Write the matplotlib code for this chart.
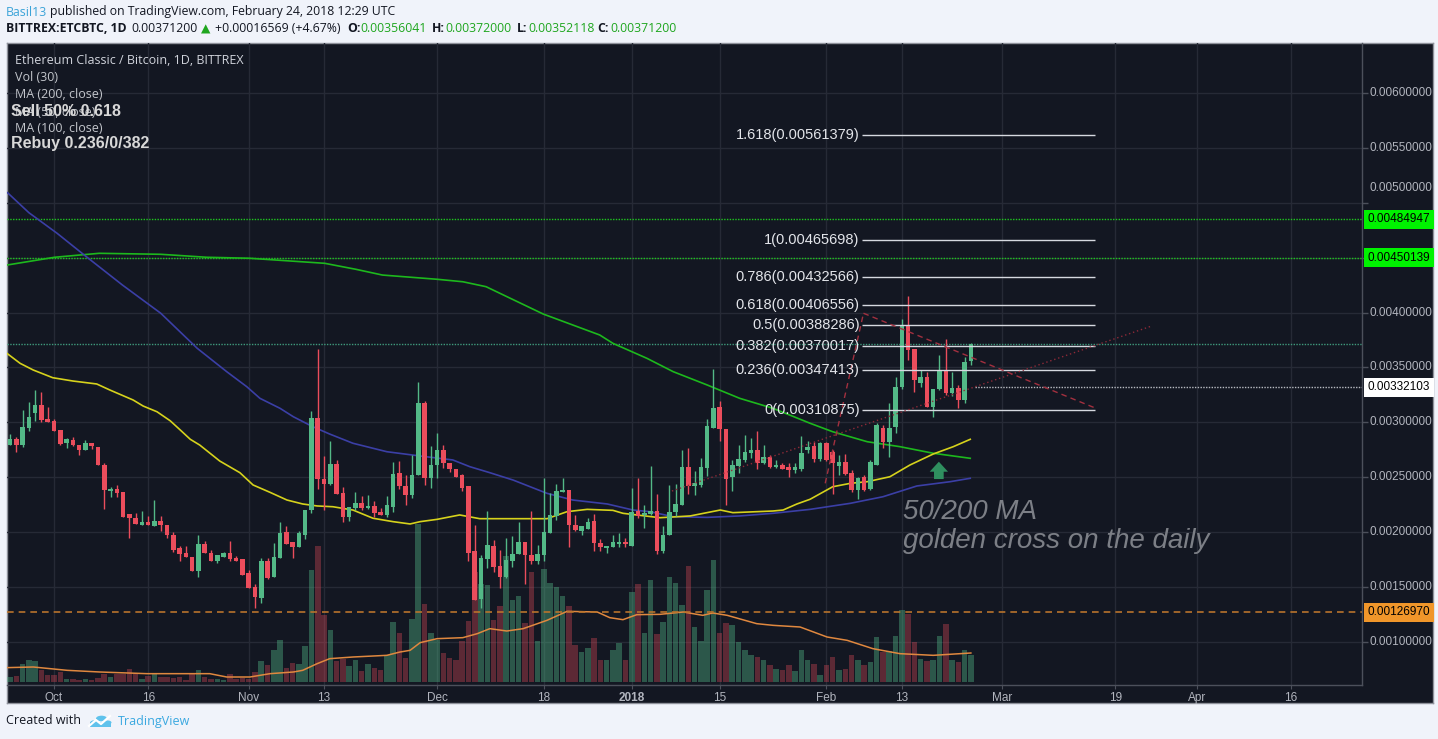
import matplotlib
matplotlib.use("Agg")
import matplotlib.pyplot as plt
from matplotlib.patches import Polygon, Circle, Rectangle
from matplotlib.colors import to_rgba
import numpy as np
import datetime as dt

# ---------------------------------------------------------------- data
UNIT = 1e-5                      # prices below are in units of 1e-5 BTC
FIRST_DAY = dt.date(2017, 9, 24)  # first daily candle
ORIGIN = dt.date(2017, 10, 1)     # x = days since this date

opens = [279.7, 284.8, 279.7, 295.2, 308.2, 315.5, 303.3, 301.5, 292.7, 280.9,
         284.2, 279.7, 274.5, 281.5, 277.9, 261.5, 237.6, 239.1, 237.0, 216.4,
         213.3, 207.0, 209.7, 205.2, 210.6, 207.0, 197.9, 185.2, 180.9, 177.6,
         164.5, 188.8, 181.5, 174.2, 177.0, 180.9, 176.1, 175.2, 162.4, 150.0,
         139.7, 173.6, 158.8, 176.1, 200.0, 190.9, 186.4, 197.9, 220.0, 304.2,
         248.8, 244.2, 262.4, 235.8, 213.9, 221.8, 227.0, 221.8, 223.6, 218.8,
         216.1, 222.7, 254.2, 242.4, 234.2, 251.8, 317.3, 249.1, 261.5, 274.5,
         263.3, 257.9, 251.8, 241.8, 182.7, 138.8, 175.2, 187.3, 169.1, 159.4,
         174.2, 179.7, 190.9, 178.8, 173.6, 179.1, 199.7, 215.2, 237.0, 238.8,
         207.0, 200.9, 203.3, 210.6, 190.0, 185.8, 186.4, 189.7, 191.2, 187.3,
         219.1, 215.5, 216.7, 219.7, 183.3, 197.3, 218.2, 224.5, 259.1, 241.8,
         243.3, 258.2, 294.8, 314.2, 294.2, 250.6, 260.6, 266.1, 272.1, 274.5,
         262.7, 268.8, 259.1, 261.5, 259.1, 256.7, 257.6, 274.5, 278.8, 266.4,
         281.6, 272.8, 260.3, 264.3, 254.2, 238.5, 250.0, 239.4, 261.2, 295.2,
         282.5, 295.5, 332.6, 388.7, 366.6, 335.6, 341.1, 313.7, 330.1, 346.8,
         327.1, 331.0, 320.4, 356.041]
highs = [289.7, 286.4, 311.5, 318.2, 329.7, 327.3, 314.2, 303.3, 292.7, 285.8,
         287.0, 279.7, 284.2, 281.5, 277.9, 263.0, 240.9, 242.7, 237.0, 216.4,
         217.9, 219.7, 215.2, 229.7, 215.2, 207.0, 200.3, 187.6, 187.6, 177.6,
         197.3, 191.8, 183.9, 178.8, 181.8, 192.4, 178.2, 175.2, 165.5, 152.4,
         176.1, 176.7, 190.0, 209.7, 205.2, 190.9, 200.9, 220.6, 310.0, 367.0,
         269.1, 282.7, 265.5, 240.9, 222.7, 237.0, 233.3, 234.2, 228.8, 221.8,
         232.7, 263.6, 264.5, 252.4, 270.6, 336.4, 319.1, 278.2, 290.3, 279.7,
         263.3, 257.9, 253.0, 241.8, 207.0, 179.1, 219.1, 193.3, 184.2, 194.8,
         196.4, 209.4, 190.9, 219.1, 187.9, 249.4, 235.8, 243.9, 249.4, 238.8,
         216.1, 205.2, 213.0, 217.0, 193.9, 187.3, 197.3, 199.4, 194.8, 240.3,
         249.4, 225.2, 260.0, 235.2, 206.1, 243.3, 243.6, 274.5, 276.7, 256.1,
         267.6, 303.3, 348.8, 319.7, 294.2, 266.1, 279.7, 288.2, 285.8, 292.4,
         279.7, 270.6, 266.1, 263.0, 263.0, 263.0, 287.9, 282.7, 282.5, 282.5,
         282.5, 274.9, 270.3, 271.2, 256.7, 250.6, 252.1, 265.8, 299.2, 297.6,
         317.4, 341.1, 393.9, 415.1, 366.6, 347.7, 346.2, 330.1, 361.4, 375.7,
         346.2, 334.1, 359.9, 372.0]
lows = [279.1, 273.0, 277.3, 291.8, 301.5, 300.3, 300.0, 291.8, 279.7, 276.4,
        278.5, 270.0, 274.5, 275.5, 260.9, 220.9, 232.1, 232.4, 214.2, 194.8,
        207.9, 207.0, 206.4, 205.2, 200.9, 194.8, 182.1, 173.6, 177.0, 164.5,
        159.1, 180.9, 174.2, 171.5, 177.0, 173.6, 174.2, 160.6, 148.8, 130.6,
        135.8, 157.0, 158.8, 176.1, 188.8, 176.7, 186.4, 193.6, 217.6, 239.7,
        220.6, 242.7, 235.2, 209.4, 210.0, 220.6, 220.0, 221.2, 213.9, 216.1,
        213.9, 218.8, 239.1, 225.2, 231.2, 251.8, 243.3, 240.3, 249.4, 258.5,
        254.8, 250.6, 237.3, 173.6, 137.9, 131.2, 167.6, 163.9, 149.4, 158.5,
        168.2, 179.7, 152.4, 170.6, 170.6, 173.6, 199.7, 210.9, 237.0, 186.4,
        200.9, 197.3, 203.3, 182.7, 182.7, 181.2, 186.4, 186.4, 186.4, 187.3,
        213.0, 203.9, 216.1, 179.7, 181.2, 197.3, 214.5, 224.5, 234.8, 234.2,
        240.9, 250.9, 294.8, 282.7, 225.2, 237.3, 253.9, 263.6, 267.6, 257.6,
        262.1, 258.5, 258.5, 257.9, 250.0, 253.9, 255.5, 272.1, 264.3, 265.2,
        265.2, 234.8, 252.1, 252.1, 236.9, 230.0, 237.9, 238.5, 261.2, 276.4,
        268.8, 290.1, 330.4, 356.8, 328.0, 332.6, 313.7, 304.6, 329.5, 325.0,
        324.1, 312.8, 317.4, 352.118]
closes = [284.8, 279.7, 296.1, 305.2, 315.5, 302.4, 300.0, 291.8, 280.6, 284.5,
          279.1, 274.5, 281.5, 278.2, 260.9, 238.2, 239.1, 236.1, 214.2, 212.7,
          207.9, 209.7, 206.4, 210.6, 206.4, 197.3, 184.2, 180.0, 177.0, 164.5,
          188.8, 180.9, 174.2, 178.8, 180.9, 175.2, 174.2, 160.6, 148.8, 141.2,
          173.6, 157.9, 177.0, 199.1, 188.8, 186.4, 199.1, 220.6, 304.2, 248.2,
          244.2, 262.4, 235.2, 213.9, 222.7, 227.0, 221.8, 223.6, 217.6, 216.1,
          224.5, 253.3, 241.8, 234.2, 252.4, 317.3, 249.1, 260.9, 274.5, 262.7,
          257.9, 250.6, 240.6, 181.5, 137.9, 176.1, 188.2, 168.2, 159.4, 174.8,
          180.6, 190.9, 178.8, 173.6, 179.7, 200.6, 216.1, 237.9, 238.8, 206.4,
          202.4, 205.2, 209.4, 190.0, 186.4, 187.3, 190.9, 191.2, 188.8, 218.2,
          215.2, 217.3, 219.7, 183.3, 197.3, 218.8, 225.5, 259.1, 241.8, 244.5,
          259.1, 296.4, 312.7, 293.6, 248.5, 261.5, 267.0, 273.3, 274.5, 262.7,
          268.8, 259.1, 260.9, 257.9, 256.4, 259.4, 272.4, 278.0, 266.4, 281.6,
          265.8, 262.7, 264.3, 253.0, 238.5, 249.1, 238.5, 263.6, 297.6, 282.5,
          295.2, 332.6, 388.7, 366.0, 338.6, 341.1, 313.7, 330.1, 346.8, 327.1,
          331.0, 320.4, 354.631, 371.2]
# relative volume units
volumes = [15, 17, 53, 67, 62, 37, 20, 20, 30, 10,
           10, 7, 10, 7, 13, 25, 15, 25, 25, 40,
           25, 10, 17, 25, 15, 15, 13, 15, 7, 25,
           35, 15, 10, 10, 7, 25, 10, 13, 10, 30,
           62, 50, 95, 125, 43, 58, 55, 107, 335, 407,
           200, 155, 62, 70, 47, 67, 32, 55, 43, 37,
           80, 180, 148, 73, 190, 473, 233, 148, 127, 88,
           73, 67, 122, 182, 330, 295, 290, 187, 229, 379,
           245, 257, 178, 329, 122, 340, 298, 285, 259, 229,
           110, 89, 103, 133, 67, 65, 97, 118, 65, 271,
           295, 148, 307, 143, 180, 315, 298, 230, 347, 165,
           124, 277, 367, 148, 178, 170, 120, 97, 80, 75,
           67, 50, 40, 37, 50, 33, 97, 65, 55, 20,
           50, 75, 35, 40, 82, 67, 50, 60, 135, 90,
           93, 138, 217, 205, 120, 70, 63, 65, 137, 175,
           67, 60, 97, 80]

# moving averages (x = days since Oct 1 2017, price in 1e-5)
ma50_days = [-7.5, -5.4, -3.3, -0.2, 3.0, 6.8, 8.9, 12.6, 14.2, 16.4,
             18.5, 20.1, 21.7, 23.2, 26.4, 29.6, 31.7, 34.4, 37.1, 39.6,
             41.9, 44.4, 47.6, 50.8, 54.0, 56.7, 58.3, 61.0, 64.6, 67.8,
             73.1, 78.5, 81.7, 84.9, 89.0, 90.6, 92.8, 96.5, 101.3, 106.1,
             108.1, 114.5, 116.1, 118.3, 120.4, 124.0, 126.8, 129.5, 133.1, 136.3,
             140.0, 143.2, 145.9]
ma50_vals = [362.9, 353.8, 347.7, 340.7, 337.7, 335.0, 329.5, 320.4, 314.9, 309.7,
             301.5, 293.1, 284.6, 279.4, 264.8, 254.2, 243.0, 236.3, 229.3, 225.7,
             223.9, 223.2, 220.2, 212.7, 209.6, 207.5, 209.6, 211.7, 215.7, 212.3,
             212.3, 212.3, 218.7, 220.8, 219.9, 217.2, 215.7, 213.2, 214.8, 220.2,
             217.8, 219.3, 220.2, 225.7, 230.0, 241.4, 244.5, 246.0, 250.5, 261.2,
             271.2, 277.9, 284.6]
ma100_days = [-7.4, -4.0, 0.5, 4.8, 10.9, 17.0, 22.8, 27.5, 30.7, 32.8,
              36.0, 38.1, 41.2, 43.9, 47.6, 53.0, 58.3, 63.5, 66.2, 69.4,
              73.1, 78.5, 82.6, 88.1, 92.2, 94.9, 98.6, 104.0, 109.2, 114.5,
              120.4, 126.8, 132.0, 137.4, 142.7, 145.9]
ma100_vals = [509.2, 491.0, 472.2, 452.5, 425.1, 399.4, 367.5, 346.2, 332.5, 321.9,
              312.8, 305.2, 296.1, 289.4, 281.0, 273.3, 269.4, 265.8, 259.7, 254.2,
              247.5, 235.4, 229.3, 225.7, 220.2, 218.7, 214.1, 213.5, 214.8, 217.2,
              220.8, 226.3, 232.3, 242.1, 246.0, 249.1]
ma200_days = [-7.4, 0.1, 7.2, 17.0, 24.3, 31.1, 43.1, 48.1, 52.3, 61.1,
              65.1, 68.8, 77.9, 86.9, 89.0, 94.4, 98.6, 104.0, 109.2, 114.5,
              120.4, 124.0, 129.5, 134.7, 140.0, 145.9]
ma200_vals = [443.4, 450.4, 454.0, 453.1, 450.4, 449.5, 444.9, 439.4, 434.2, 430.3,
              428.1, 423.6, 398.7, 379.6, 372.0, 358.4, 346.2, 334.1, 321.9, 312.8,
              299.2, 291.5, 282.4, 277.9, 271.9, 267.3]
volma_days = [-7.7, -3.3, 2.1, 7.3, 14.8, 24.8, 27.5, 31.2, 34.4, 38.1,
              39.6, 41.9, 43.9, 47.6, 53.0, 55.1, 56.7, 58.3, 61.0, 65.1,
              67.4, 69.4, 72.1, 74.7, 78.5, 81.7, 86.5, 88.5, 90.6, 92.8,
              96.5, 100.2, 103.3, 104.9, 107.2, 111.9, 114.5, 118.8, 123.1, 126.3,
              130.4, 134.7, 140.0, 146.0]
volma_vals = [43, 45, 35, 30, 25, 25, 15, 15, 25, 30,
              35, 55, 70, 75, 80, 90, 95, 118, 130, 133,
              145, 160, 153, 160, 185, 212, 210, 193, 187, 202,
              203, 210, 200, 207, 200, 175, 170, 165, 135, 125,
              100, 85, 80, 87]

fib_ratios = ['1.618', '1', '0.786', '0.618', '0.5', '0.382', '0.236', '0']
fib_prices = [0.00561379, 0.00465698, 0.00432566, 0.00406556,
              0.00388286, 0.00370017, 0.00347413, 0.00310875]

level_green = [0.00484947, 0.00450139]
level_white = 0.00332103
level_orange = 0.00126970

price_grid = [0.0010, 0.0015, 0.0020, 0.0025, 0.0030, 0.0035,
              0.0040, 0.0045, 0.0050, 0.0055, 0.0060]
price_labels = [0.0010, 0.0015, 0.0020, 0.0025, 0.0030, 0.0035,
                0.0040, 0.0050, 0.0055, 0.0060]

tick_dates = [dt.date(2017, 10, 1), dt.date(2017, 10, 16), dt.date(2017, 11, 1),
              dt.date(2017, 11, 13), dt.date(2017, 12, 1), dt.date(2017, 12, 18),
              dt.date(2018, 1, 1), dt.date(2018, 1, 15), dt.date(2018, 2, 1),
              dt.date(2018, 2, 13), dt.date(2018, 3, 1), dt.date(2018, 3, 19),
              dt.date(2018, 4, 1), dt.date(2018, 4, 16)]
tick_labels = ['Oct', '16', 'Nov', '13', 'Dec', '18', '2018', '15', 'Feb',
               '13', 'Mar', '19', 'Apr', '16']

# ---------------------------------------------------------------- style
W, H = 1438, 739
BG = '#131722'
GRID = '#262a36'
UP = '#53b987'
DOWN = '#eb4d5c'
AXTXT = '#b2b5be'
SEP = '#4c505b'
SANS = ['Liberation Sans', 'DejaVu Sans']
UI = ['Open Sans', 'DejaVu Sans']

fig = plt.figure(figsize=(W / 100, H / 100), dpi=100)
fig.patch.set_facecolor('#f0f3fa')


def fx(px):
    return px / W


def fy(py):
    return 1 - py / H


L, R, T, B = 7, 1362, 43, 685
rect = [fx(L), fy(B), (R - L) / W, (B - T) / H]

panel = fig.add_axes([fx(7), fy(703), (1433 - 7) / W, (703 - 43) / H])
panel.set_facecolor(BG)
panel.set_xticks([])
panel.set_yticks([])
for s in panel.spines.values():
    s.set_color('#8f929b')
    s.set_linewidth(1)

axg = fig.add_axes(rect)
axg.patch.set_alpha(0)
axg.set_axis_off()
axv = fig.add_axes(rect, sharex=axg)
axv.patch.set_alpha(0)
axv.set_axis_off()
ax = fig.add_axes(rect, sharex=axg)
ax.patch.set_alpha(0)

XMIN, XMAX = -7.484, 208.28
YMIN, YMAX = 0.00060838, 0.00645537
ax.set_xlim(XMIN, XMAX)
ax.set_ylim(YMIN, YMAX)
axg.set_ylim(YMIN, YMAX)
axv.set_ylim(-9, 1917)

tick_x = [(d - ORIGIN).days for d in tick_dates]

# grid
for p in price_grid:
    axg.axhline(p, color=GRID, lw=1, zorder=0)
for t in tick_x:
    axg.axvline(t, color=GRID, lw=1, zorder=0)

# candle x positions
n = len(opens)
x = np.array([(FIRST_DAY + dt.timedelta(days=i) - ORIGIN).days for i in range(n)], dtype=float)
o = np.array(opens) * UNIT
h = np.array(highs) * UNIT
lo = np.array(lows) * UNIT
c = np.array(closes) * UNIT
up = c >= o

# volume
vcols = [to_rgba(UP, 0.40) if u else to_rgba(DOWN, 0.34) for u in up]
axv.bar(x, volumes, width=0.88, color=vcols, linewidth=0, zorder=1)
axv.plot(volma_days, volma_vals, color='#e0883f', lw=1.1, zorder=2)

# moving averages
ax.plot(ma200_days, np.array(ma200_vals) * UNIT, color='#1db81d', lw=1.2, zorder=2)
ax.plot(ma100_days, np.array(ma100_vals) * UNIT, color='#3b3fa6', lw=1.2, zorder=2)
ax.plot(ma50_days, np.array(ma50_vals) * UNIT, color='#d6d21c', lw=1.2, zorder=2)

# horizontal levels
for p in level_green:
    ax.axhline(p, color='#1ec81e', lw=1, ls=(0, (1, 1)), zorder=1)
ax.axhline(c[-1], color='#3f9a7c', lw=1, ls=(0, (1, 1)), zorder=1)
ax.axhline(level_orange, color='#b8732c', lw=1.2, ls=(0, (4, 3)), zorder=1)
ax.hlines(level_white, 146.7, XMAX, color='#b8bbc2', lw=1, ls=(0, (1, 1)), zorder=1)

# candles
ccol = np.where(up, UP, DOWN)
ax.vlines(x, lo, h, colors=ccol, lw=1, zorder=3)
body_b = np.minimum(o, c)
body_h = np.maximum(np.abs(c - o), 0.5 * UNIT)
ax.bar(x, body_h, width=0.72, bottom=body_b, color=ccol, linewidth=0, zorder=4)

# fibonacci
FIB_X0, FIB_X1 = 128.7, 165.8
ax.hlines(fib_prices, FIB_X0, FIB_X1, color='#d6d9e0', lw=1, zorder=5)
for r, p in zip(fib_ratios, fib_prices):
    ax.text(FIB_X0 - 0.4, p, f"{r}({p:.8f})", ha='right', va='center',
            fontsize=10.5, color='#e3e5ea', family=SANS, zorder=6)

# trend lines
ax.plot([122.8, 128.9], [244.5 * UNIT, 399.4 * UNIT], color='#a3303f', lw=1,
        ls=(0, (4, 3)), zorder=5)
ax.plot([128.9, 165.8], [399.4 * UNIT, 313.1 * UNIT], color='#a3303f', lw=1,
        ls=(0, (4, 3)), zorder=5)
ax.plot([98.4, 174.8], [237.5 * UNIT, 387.8 * UNIT], color='#8e2a38', lw=1,
        ls=(0, (1, 2)), zorder=5)

# golden-cross arrow
ac, tip, hb, sb, hw, sw = 140.9, 264.2 * UNIT, 255.1 * UNIT, 248.4 * UNIT, 1.46, 0.77
ax.add_patch(Polygon([(ac, tip), (ac - hw, hb), (ac - sw, hb), (ac - sw, sb),
                      (ac + sw, sb), (ac + sw, hb), (ac + hw, hb)],
                     closed=True, fc='#2f8f5f', ec='none', zorder=6))
ax.text(135.2, 0.002187, '50/200 MA', fontsize=20, style='italic', color='#7c7f86',
        family=SANS, ha='left', va='center', zorder=6)
ax.text(135.2, 0.00192, 'golden cross on the daily', fontsize=20, style='italic',
        color='#7c7f86', family=SANS, ha='left', va='center', zorder=6)

# axes decorations
for side in ['top', 'left']:
    ax.spines[side].set_visible(False)
for side in ['bottom', 'right']:
    ax.spines[side].set_color(SEP)
    ax.spines[side].set_linewidth(1)
ax.yaxis.tick_right()
ax.set_yticks(price_grid)
ax.set_yticklabels([])
ax.tick_params(axis='y', length=4, color=SEP, width=1)
ax.set_xticks(tick_x)
ax.set_xticklabels(tick_labels, family=SANS)
ax.tick_params(axis='x', length=3, color=SEP, labelcolor=AXTXT, labelsize=8.5, pad=2)
for lab in ax.get_xticklabels():
    if lab.get_text() == '2018':
        lab.set_fontweight('bold')

ytr = ax.get_yaxis_transform()
for p in price_labels:
    off = 15 if abs(p - 0.005) < 1e-9 else 0
    ax.annotate(f"{p:.8f}", xy=(1, p), xycoords=ytr, xytext=(8 * 0.72, off * 0.72),
                textcoords='offset points', ha='left', va='center', fontsize=8.5,
                color=AXTXT, family=SANS, annotation_clip=False)


def price_box(p, fc, tc='#000000'):
    ax.annotate(f"{p:.8f}", xy=(1, p), xycoords=ytr, xytext=(4.2, 0),
                textcoords='offset points', ha='left', va='center', fontsize=8.5,
                color=tc, family=SANS, annotation_clip=False, zorder=10,
                bbox=dict(boxstyle='square,pad=0.3', fc=fc, ec='none'))


for p in level_green:
    price_box(p, '#00f200')
price_box(level_white, '#ffffff')
price_box(level_orange, '#f0962a')

# legend inside chart
leg_c = '#c3c6cc'
LEG_FS = 9
fig.text(fx(15), fy(61), 'Ethereum Classic / Bitcoin, 1D, BITTREX', fontsize=LEG_FS,
         color='#d1d4dc', family=UI, va='center')
fig.text(fx(15), fy(77.5), 'Vol (30)', fontsize=LEG_FS, color=leg_c, family=UI, va='center')
fig.text(fx(15), fy(95), 'MA (200, close)', fontsize=LEG_FS, color=leg_c, family=UI, va='center')
fig.text(fx(15), fy(112), 'MA (50, close)', fontsize=LEG_FS, color=leg_c, family=UI, va='center')
fig.text(fx(15), fy(128.5), 'MA (100, close)', fontsize=LEG_FS, color=leg_c, family=UI,
         va='center')
fig.text(fx(11), fy(111), 'Sell 50% 0.618', fontsize=11.5, weight='bold', color='#d8d8d8',
         family=SANS, va='center')
fig.text(fx(11), fy(143.5), 'Rebuy 0.236/0/382', fontsize=11.5, weight='bold',
         color='#d8d8d8', family=SANS, va='center')

# header
GREEN_T = '#1fa61f'
HFS = 8.8
fig.text(fx(6), fy(12), 'Basil13', fontsize=HFS, color='#3aa3d8', family=UI, va='center')
fig.text(fx(50), fy(12), 'published on TradingView.com, February 24, 2018 12:29 UTC',
         fontsize=HFS, color='#131722', family=UI, va='center')
chg = closes[-1] - closes[-2]
pct = chg / closes[-2] * 100
segs = [(6, 'BITTREX:ETCBTC, 1D', 'bold', '#131722'),
        (131.7, f"{closes[-1] * UNIT:.8f}", 'normal', '#131722'),
        (201, '\u25B2', 'normal', GREEN_T),
        (215, f"+{chg * UNIT:.8f} (+{pct:.2f}%)", 'normal', '#131722'),
        (347, 'O:', 'bold', '#131722'), (360.7, f"{opens[-1] * UNIT:.8f}", 'normal', GREEN_T),
        (432, 'H:', 'bold', '#131722'), (445.5, f"{highs[-1] * UNIT:.8f}", 'normal', GREEN_T),
        (516.5, 'L:', 'bold', '#131722'), (528, f"{lows[-1] * UNIT:.8f}", 'normal', GREEN_T),
        (597, 'C:', 'bold', '#131722'), (610.7, f"{closes[-1] * UNIT:.8f}", 'normal', GREEN_T)]
for px, s, wgt, col in segs:
    fig.text(fx(px), fy(29), s, fontsize=HFS, weight=wgt, color=col, family=UI, va='center')

# footer
fig.text(fx(6), fy(721), 'Created with', fontsize=9, color='#131722', family=UI, va='center')
fig.text(fx(118), fy(721), 'TradingView', fontsize=9, color='#3aa8e0', family=UI, va='center')
logo_c = '#5fc2ec'
for cx, cy, rr in [(94.5, 722.5, 4.3), (101.5, 718.5, 5.5), (107.5, 722.5, 4.0)]:
    fig.patches.append(Circle((fx(cx), fy(cy)), rr / W, transform=fig.transFigure,
                              fc=logo_c, ec='none'))
fig.patches.append(Rectangle((fx(90), fy(727)), 21 / W, 5 / H, transform=fig.transFigure,
                             fc=logo_c, ec='none'))
fig.lines.append(plt.Line2D([fx(89), fx(96), fx(101), fx(110)],
                            [fy(726), fy(720), fy(724), fy(716)],
                            transform=fig.transFigure, color='white', lw=1.6))

fig.savefig('out.png', dpi=100, facecolor=fig.get_facecolor())
